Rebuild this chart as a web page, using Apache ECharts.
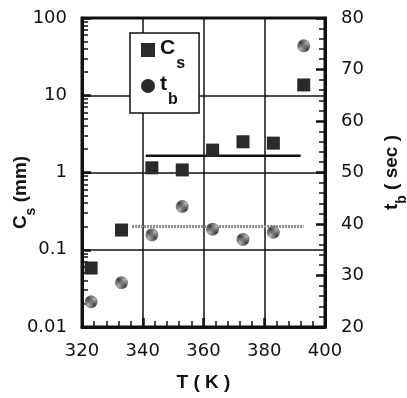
<!DOCTYPE html>
<html><head><meta charset="utf-8">
<script src="https://cdn.jsdelivr.net/npm/echarts@6/dist/echarts.min.js"></script>
<style>html,body{margin:0;padding:0;background:#fff}#c{width:407px;height:398px}</style>
</head><body><div id="c"></div>
<script>
const temperatures = [323, 333, 343, 353, 363, 373, 383, 393];
const csValues = [0.058, 0.18, 1.15, 1.08, 1.95, 2.5, 2.4, 13.6];
const tbValues = [24.9, 28.6, 37.9, 43.4, 39.0, 37.0, 38.4, 74.6];
const csFitT = [341, 392];
const csFitValue = 1.65;
const tbFitT = [336.5, 393];
const tbFitValue = 39.5;
const xTicks = [320, 340, 360, 380, 400];
const csTicks = [0.01, 0.1, 1, 10, 100];
const tbTicks = [20, 30, 40, 50, 60, 70, 80];

const minorLog = [];
for (let d = 0.01; d < 100; d *= 10) {
  for (let k = 2; k <= 9; k++) minorLog.push(+(d * k).toPrecision(3));
}

function stipple(dark, light) {
  const c = document.createElement('canvas');
  c.width = 2; c.height = 2;
  const g = c.getContext('2d');
  g.fillStyle = light; g.fillRect(0, 0, 2, 2);
  g.fillStyle = dark; g.fillRect(0, 0, 1, 1); g.fillRect(1, 1, 1, 1);
  return c;
}

const chart = echarts.init(document.getElementById('c'));
const tickFont = { fontFamily: 'DejaVu Sans', fontSize: 18, color: '#111' };
const bold = 'Liberation Sans';
const nameRich = {
  a: { fontFamily: bold, fontWeight: 'bold', fontSize: 19, color: '#111', lineHeight: 22, verticalAlign: 'top' },
  s: { fontFamily: bold, fontWeight: 'bold', fontSize: 14, color: '#111', lineHeight: 12, verticalAlign: 'top', padding: [13, 0, 0, 0] }
};

chart.setOption({
  backgroundColor: '#fff',
  animation: false,
  grid: { left: 82, right: 82, top: 18, bottom: 71, outerBoundsMode: 'none', containLabel: false, show: true, borderWidth: 3, borderColor: '#111', backgroundColor: 'transparent' },
  legend: {
    orient: 'vertical', left: 130, top: 33,
    padding: [5, 14, 5, 11], itemGap: 2, itemWidth: 14, itemHeight: 14,
    backgroundColor: '#fff', borderColor: '#111', borderWidth: 1.5, borderRadius: 0,
    data: [
      { name: 'Cs', icon: 'rect', itemStyle: { color: '#2a2a2a', opacity: 1 } },
      { name: 'tb', icon: 'circle', itemStyle: { color: '#2a2a2a', opacity: 1 } }
    ],
    formatter: n => n === 'Cs' ? '{a|C}{s|s}' : '{a|t}{s|b}',
    textStyle: {
      rich: {
        a: { fontFamily: bold, fontWeight: 'bold', fontSize: 21, color: '#111', lineHeight: 24, verticalAlign: 'top' },
        s: { fontFamily: bold, fontWeight: 'bold', fontSize: 16, color: '#111', lineHeight: 12, verticalAlign: 'top', padding: [18, 0, 0, 1] }
      }
    }
  },
  xAxis: {
    type: 'value', min: 320, max: 400, interval: 20,
    name: 'T ( K )', nameLocation: 'middle', nameGap: 46,
    nameTextStyle: { fontFamily: bold, fontWeight: 'bold', fontSize: 19, color: '#111' },
    axisLine: { lineStyle: { color: '#111', width: 3 } },
    axisTick: { inside: true, length: 9, lineStyle: { color: '#111', width: 2.5 } },
    minorTick: { show: true, splitNumber: 5, length: 6, lineStyle: { color: '#111', width: 1.5 } },
    axisLabel: Object.assign({ margin: 15, formatter: v => xTicks.includes(v) ? String(v) : '' }, tickFont),
    splitLine: { show: true, lineStyle: { color: '#111', width: 1.5 } }
  },
  yAxis: [
    {
      type: 'log', logBase: 10, min: 0.01, max: 100, position: 'left',
      name: '{a|C}{s|s}{a| (mm)}', nameLocation: 'middle', nameGap: 49, nameRotate: 90, nameMoveOverlap: false,
      nameTextStyle: { padding: [0, 40, 0, 0], rich: nameRich },
      axisLine: { show: true, lineStyle: { color: '#111', width: 3 } },
      axisTick: { inside: true, length: 9, lineStyle: { color: '#111', width: 2.5 } },
      axisLabel: Object.assign({ margin: 15, formatter: v => csTicks.includes(+v) ? String(v) : '' }, tickFont),
      splitLine: { show: true, lineStyle: { color: '#111', width: 1.5 } }
    },
    {
      type: 'log', logBase: 10, min: 0.01, max: 100, position: 'left',
      axisLine: { show: false },
      axisLabel: { show: false },
      splitLine: { show: false },
      axisTick: { show: true, inside: true, length: 6, customValues: minorLog, lineStyle: { color: '#111', width: 1.5 } }
    },
    {
      type: 'value', min: 20, max: 80, interval: 10, position: 'right',
      name: '{a|t}{s|b}{a| ( sec )}', nameLocation: 'middle', nameGap: 57, nameRotate: 90, nameMoveOverlap: false,
      nameTextStyle: { rich: nameRich },
      axisLine: { show: true, lineStyle: { color: '#111', width: 3 } },
      axisTick: { inside: true, length: 9, lineStyle: { color: '#111', width: 2.5 } },
      minorTick: { show: true, splitNumber: 5, length: 6, lineStyle: { color: '#111', width: 1.5 } },
      axisLabel: Object.assign({ margin: 16, formatter: v => tbTicks.includes(v) ? String(v) : '' }, tickFont),
      splitLine: { show: false }
    }
  ],
  series: [
    {
      name: 'Cs', type: 'scatter', yAxisIndex: 0, symbol: 'rect', symbolSize: 13, z: 5,
      itemStyle: { color: '#2a2a2a', opacity: 1 },
      data: temperatures.map((t, i) => [t, csValues[i]])
    },
    {
      name: 'tb', type: 'scatter', yAxisIndex: 2, symbol: 'circle', symbolSize: 13, z: 5,
      itemStyle: { color: { image: stipple('#333', '#bdbdbd'), repeat: 'repeat' }, opacity: 1 },
      data: temperatures.map((t, i) => [t, tbValues[i]])
    },
    {
      name: 'csFit', type: 'line', yAxisIndex: 0, symbol: 'none', z: 4,
      lineStyle: { color: '#111', width: 2.5 },
      data: csFitT.map(t => [t, csFitValue])
    },
    {
      name: 'tbFit', type: 'line', yAxisIndex: 2, symbol: 'none', z: 4,
      lineStyle: { color: '#8a8a8a', width: 3, type: [2, 1] },
      data: tbFitT.map(t => [t, tbFitValue])
    }
  ]
});
</script></body></html>
